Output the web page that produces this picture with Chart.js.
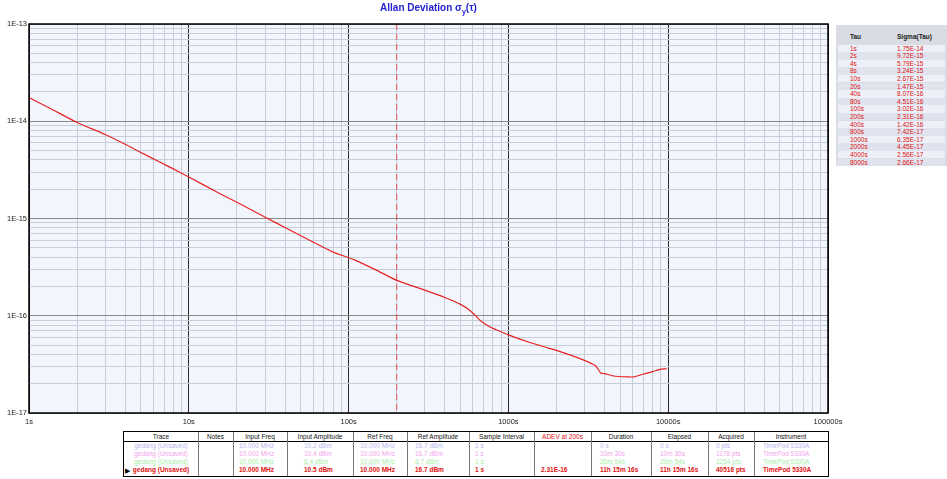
<!DOCTYPE html>
<html>
<head>
<meta charset="utf-8">
<script src="https://cdn.jsdelivr.net/npm/chart.js@4/dist/chart.umd.min.js"></script>
<style>
body { margin: 0; width: 947px; height: 479px; position: relative; overflow: hidden; background: #fff; font-family: "Liberation Sans", Arial, sans-serif; }
#chart { position: absolute; left: 0; top: 0; }
#title { position: absolute; left: 29px; width: 799px; top: 2px; text-align: center; color: #2222d4; font-size: 10px; font-weight: bold; }
#title sub { font-size: 7px; }
#tauPanel { position: absolute; left: 836px; top: 25px; width: 111px; height: 141px; background: #d9dce3; }
#tauPanel .hd { position: absolute; top: 8px; font-size: 6.5px; font-weight: bold; color: #222; }
#tauPanel .row { position: absolute; left: 2px; width: 107px; height: 7.6px; font-size: 6.5px; line-height: 7.6px; color: #e01010; }
#tauPanel .row span { position: absolute; top: 0; }
#traceTable { position: absolute; left: 123px; top: 431px; width: 704px; height: 44px; border-top: 1.5px solid #000; border-bottom: 1.5px solid #000; border-left: 1px solid #000; border-right: 1px solid #000; background: #fff; }
#traceTable .cell { position: absolute; font-size: 6.5px; white-space: nowrap; }
#traceTable .vline { position: absolute; top: 0; width: 0; height: 44px; border-left: 1px solid #777; }
#traceTable .hline { position: absolute; left: 0; width: 704px; top: 9px; border-top: 1px solid #000; }
</style>
</head>
<body>
<canvas id="chart" width="947" height="430"></canvas>
<div id="title">Allan Deviation σ<sub>y</sub>(τ)</div>
<div id="tauPanel"></div>
<div id="traceTable"></div>
<script>
// ADEV curve
const tauValues = [1, 1.354, 2, 3, 4, 4.8, 6.62, 8, 10, 15.7, 20, 30.5, 40, 59, 80, 107, 147, 200, 282, 400, 502, 580, 670, 773, 800, 1000, 1376, 1762, 2000, 2833, 3518, 3783, 4000, 4562, 5580, 6085, 7030, 8000, 8990, 9800];
const sigmaValues = [1.75e-14, 1.36e-14, 9.72e-15, 7.3e-15, 5.79e-15, 4.95e-15, 3.78e-15, 3.24e-15, 2.67e-15, 1.8e-15, 1.47e-15, 1.02e-15, 8.07e-16, 5.8e-16, 4.51e-16, 3.8e-16, 2.98e-16, 2.31e-16, 1.9e-16, 1.54e-16, 1.31e-16, 1.12e-16, 8.9e-17, 7.6e-17, 7.42e-17, 6.35e-17, 5.27e-17, 4.68e-17, 4.4e-17, 3.6e-17, 3.05e-17, 2.58e-17, 2.54e-17, 2.40e-17, 2.35e-17, 2.35e-17, 2.52e-17, 2.66e-17, 2.82e-17, 2.84e-17];

const markerTau = 200;
const xMin = 1, xMax = 100000;
const yMin = 1e-17, yMax = 1e-13;

// side table
const tableTau = ['1s', '2s', '4s', '8s', '10s', '20s', '40s', '80s', '100s', '200s', '400s', '800s', '1000s', '2000s', '4000s', '8000s'];
const tableSigma = ['1.75E-14', '9.72E-15', '5.79E-15', '3.24E-15', '2.67E-15', '1.47E-15', '8.07E-16', '4.51E-16', '3.02E-16', '2.31E-16', '1.42E-16', '7.42E-17', '6.35E-17', '4.45E-17', '2.56E-17', '2.66E-17'];

// trace table
const traceHeaders = ['Trace', 'Notes', 'Input Freq', 'Input Amplitude', 'Ref Freq', 'Ref Amplitude', 'Sample Interval', 'ADEV at 200s', 'Duration', 'Elapsed', 'Acquired', 'Instrument'];
const traceRows = [
    ['gedang (Unsaved)', '', '10.000 MHz', '10.2 dBm', '10.000 MHz', '16.7 dBm', '1 s', '', '0 s', '0 s', '0 pts', 'TimePod 5330A'],
    ['gedang (Unsaved)', '', '10.000 MHz', '10.4 dBm', '10.000 MHz', '16.7 dBm', '1 s', '', '10m 30s', '10m 30s', '1178 pts', 'TimePod 5330A'],
    ['gedang (Unsaved)', '', '10.000 MHz', '6.4 dBm', '10.000 MHz', '6.7 dBm', '1 s', '', '20m 54s', '20m 54s', '1254 pts', 'TimePod 5330A'],
    ['gedang (Unsaved)', '', '10.000 MHz', '10.5 dBm', '10.000 MHz', '16.7 dBm', '1 s', '2.31E-16', '11h 15m 16s', '11h 15m 16s', '40516 pts', 'TimePod 5330A']
];
const traceColors = ['#b8b8ee', '#f2a4ec', '#a8eca8', '#e01010'];

function isDecade(v) {
    const l = Math.log10(v);
    return Math.abs(l - Math.round(l)) < 1e-6;
}

function logTicks(min, max) {
    const out = [];
    const e0 = Math.round(Math.log10(min)), e1 = Math.round(Math.log10(max));
    for (let e = e0; e < e1; e++) {
        for (let m = 1; m <= 9; m++) out.push({ value: Number((m * Math.pow(10, e)).toPrecision(10)) });
    }
    out.push({ value: max });
    return out;
}

const plotFrame = {
    id: 'plotFrame',
    beforeDraw(chart) {
        const a = chart.chartArea, c = chart.ctx;
        c.save();
        c.fillStyle = '#f2f5fb';
        c.fillRect(a.left, a.top, a.right - a.left, a.bottom - a.top);
        c.restore();
    },
    afterDraw(chart) {
        const a = chart.chartArea, c = chart.ctx;
        c.save();
        c.strokeStyle = '#000';
        c.lineWidth = 1.5;
        c.strokeRect(a.left, a.top, a.right - a.left, a.bottom - a.top);
        c.restore();
    }
};

new Chart(document.getElementById('chart'), {
    type: 'line',
    data: {
        datasets: [{
            data: tauValues.map((t, i) => ({ x: t, y: sigmaValues[i] })),
            borderColor: '#e82424',
            borderWidth: 1.2,
            pointRadius: 0,
            tension: 0.2
        }, {
            data: [{ x: markerTau, y: yMax }, { x: markerTau, y: yMin }],
            borderColor: '#e65050',
            borderWidth: 1,
            borderDash: [6, 4],
            pointRadius: 0
        }]
    },
    options: {
        responsive: false,
        animation: false,
        layout: { padding: { top: 24, right: 119, left: 0, bottom: 0 } },
        plugins: { legend: { display: false }, tooltip: { enabled: false } },
        scales: {
            x: {
                type: 'logarithmic',
                min: xMin,
                max: xMax,
                afterBuildTicks: s => { s.ticks = logTicks(xMin, xMax); },
                afterFit: s => { s.height = 17; },
                grid: {
                    drawTicks: false,
                    color: c => (c.tick && isDecade(c.tick.value)) ? '#2a2a2a' : '#c6cedb',
                    lineWidth: 1
                },
                border: { display: false },
                ticks: {
                    autoSkip: false,
                    maxRotation: 0,
                    padding: 4,
                    color: '#222',
                    font: { family: 'Liberation Sans', size: 7.5 },
                    callback: v => isDecade(v) ? Math.round(v) + 's' : ''
                }
            },
            y: {
                type: 'logarithmic',
                min: yMin,
                max: yMax,
                afterBuildTicks: s => { s.ticks = logTicks(yMin, yMax); },
                afterFit: s => { s.width = 29; },
                grid: {
                    drawTicks: false,
                    color: c => (c.tick && isDecade(c.tick.value)) ? '#8a8a8a' : '#c6cedb',
                    lineWidth: 1
                },
                border: { display: false },
                ticks: {
                    autoSkip: false,
                    padding: 2,
                    color: '#222',
                    font: { family: 'Liberation Sans', size: 7.5 },
                    callback: v => isDecade(v) ? '1E' + Math.round(Math.log10(v)) : ''
                }
            }
        }
    },
    plugins: [plotFrame]
});

// side table of tau / sigma
const panel = document.getElementById('tauPanel');
panel.innerHTML = '<div class="hd" style="left:14px">Tau</div><div class="hd" style="left:61px">Sigma(Tau)</div>';
tableTau.forEach((t, i) => {
    const row = document.createElement('div');
    row.className = 'row';
    row.style.top = (19.5 + i * 7.6) + 'px';
    row.style.background = i % 2 === 0 ? '#eef0f8' : '#dfe3ee';
    row.innerHTML = `<span style="left:12px">${t}</span><span style="left:59px">${tableSigma[i]}</span>`;
    panel.appendChild(row);
});

// trace table
const colEdges = [0, 74, 109, 163, 229, 283, 345, 410, 467, 527, 584, 630, 704];
const cellPad = [null, 6, 6, 17, 7, 8, 6, 7, 9, 9, 8, 9];
const tbl = document.getElementById('traceTable');
let html = '<div class="hline"></div>';
colEdges.slice(1, -1).forEach(x => { html += `<div class="vline" style="left:${x}px"></div>`; });
traceHeaders.forEach((h, j) => {
    const w = colEdges[j + 1] - colEdges[j];
    const col = j === 7 ? '#e01010' : '#111';
    html += `<div class="cell" style="left:${colEdges[j]}px;width:${w}px;top:0;height:9px;line-height:9px;text-align:center;color:${col}">${h}</div>`;
});
traceRows.forEach((r, i) => {
    const top = 9.5 + i * 8.2;
    const weight = i === 3 ? 'bold' : 'normal';
    r.forEach((v, j) => {
        const w = colEdges[j + 1] - colEdges[j];
        const align = j === 0 ? 'text-align:center;' : `padding-left:${cellPad[j]}px;`;
        html += `<div class="cell" style="left:${colEdges[j]}px;width:${w}px;top:${top}px;height:8px;line-height:8px;${align}color:${traceColors[i]};font-weight:${weight};box-sizing:border-box">${v}</div>`;
    });
});
html += '<div class="cell" style="left:1px;top:34.5px;line-height:8px;font-size:7px;color:#000">▶</div>';
tbl.innerHTML = html;
</script>
</body>
</html>
